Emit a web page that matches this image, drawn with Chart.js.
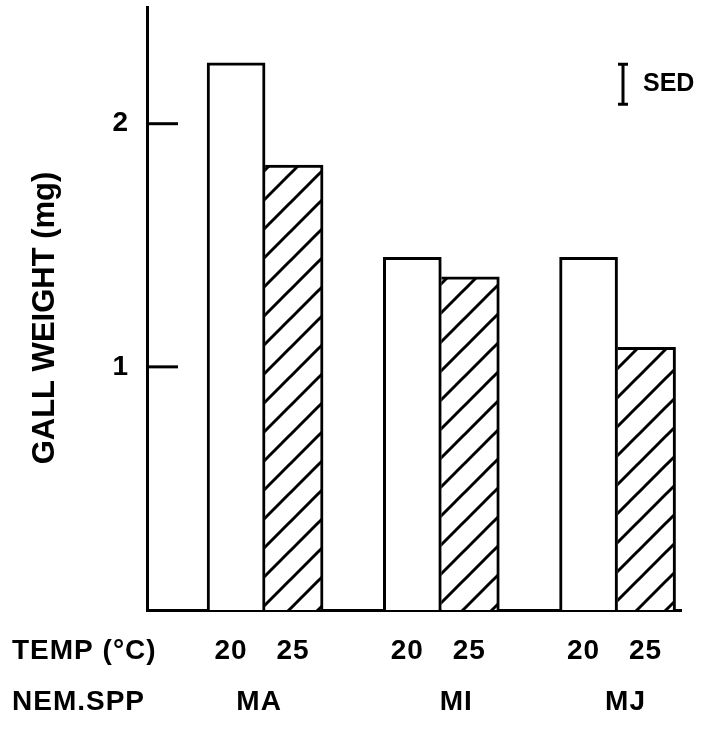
<!DOCTYPE html>
<html>
<head>
<meta charset="utf-8">
<script src="https://cdn.jsdelivr.net/npm/chart.js@4"></script>
<style>
  body { margin: 0; background: #fff; }
</style>
</head>
<body>
<canvas id="chart" width="707" height="729"></canvas>
<script>
// data
var species = ['MA', 'MI', 'MJ'];
var temps = ['20', '25'];
var weight20 = [2.25, 1.45, 1.45];
var weight25 = [1.83, 1.37, 1.08];
var yTicks = [1, 2];
var sed = 0.165;

var FONT = '"Liberation Sans", Arial, sans-serif';

// diagonal hatch for the 25 C bars
function makeHatch() {
  var s = 29;
  var c = document.createElement('canvas');
  c.width = s; c.height = s;
  var g = c.getContext('2d');
  g.fillStyle = '#fff';
  g.fillRect(0, 0, s, s);
  g.strokeStyle = '#000';
  g.lineWidth = 3;
  for (var k = -1; k <= 1; k++) {
    g.beginPath();
    g.moveTo(-2 + k * s, s + 2);
    g.lineTo(s + 2 + k * s, -2);
    g.stroke();
  }
  return g.createPattern(c, 'repeat');
}

function pts(vals) {
  return vals.map(function (v, i) { return { x: i + 1, y: v }; });
}

var extras = {
  id: 'extras',
  afterDraw: function (chart) {
    var ctx = chart.ctx;
    var xs = chart.scales.x, ys = chart.scales.y;
    var area = chart.chartArea;
    ctx.save();
    ctx.strokeStyle = '#000';
    ctx.fillStyle = '#000';
    ctx.lineWidth = 3;

    // inward y ticks
    yTicks.forEach(function (v) {
      var y = ys.getPixelForValue(v);
      ctx.beginPath();
      ctx.moveTo(area.left, y);
      ctx.lineTo(area.left + 31, y);
      ctx.stroke();
    });

    // SED bar
    var sx = area.right - 58;
    var top = ys.getPixelForValue(2.245);
    var bot = ys.getPixelForValue(2.245 - sed);
    ctx.beginPath();
    ctx.moveTo(sx, top); ctx.lineTo(sx, bot);
    ctx.moveTo(sx - 5, top); ctx.lineTo(sx + 5, top);
    ctx.moveTo(sx - 5, bot); ctx.lineTo(sx + 5, bot);
    ctx.stroke();
    ctx.font = 'bold 25px ' + FONT;
    ctx.textAlign = 'left';
    ctx.textBaseline = 'middle';
    ctx.fillText('SED', sx + 20, (top + bot) / 2);

    // y title
    ctx.save();
    ctx.translate(45, 318);
    ctx.rotate(-Math.PI / 2);
    ctx.textAlign = 'center';
    ctx.font = 'bold 31px ' + FONT;
    ctx.fillText('GALL WEIGHT (mg)', 0, 0);
    ctx.restore();

    // bottom label rows
    ctx.font = 'bold 28px ' + FONT;
    ctx.letterSpacing = '1px';
    ctx.textAlign = 'left';
    ctx.fillText('TEMP (°C)', 12, 651);
    ctx.fillText('NEM.SPP', 12, 702);
    ctx.textAlign = 'center';
    var nudge = [-6, 15, 8];
    species.forEach(function (s, i) {
      var cx = xs.getPixelForValue(i + 1);
      ctx.fillText(temps[0], cx - 34, 651);
      ctx.fillText(temps[1], cx + 28, 651);
      ctx.fillText(s, cx + nudge[i], 702);
    });
    ctx.restore();
  }
};

var config = {
  type: 'bar',
  data: {
    datasets: [
      {
        label: temps[0],
        data: pts(weight20),
        backgroundColor: '#fff',
        borderColor: '#000',
        borderWidth: { top: 3, left: 3, right: 3, bottom: 0 },
        barThickness: 58
      },
      {
        label: temps[1],
        data: pts(weight25),
        backgroundColor: makeHatch(),
        borderColor: '#000',
        borderWidth: { top: 3, left: 0, right: 3, bottom: 0 },
        barThickness: 58
      }
    ]
  },
  options: {
    responsive: false,
    devicePixelRatio: 1,
    animation: false,
    layout: { padding: { top: 7, right: 26, bottom: 119, left: 0 } },
    plugins: { legend: { display: false }, tooltip: { enabled: false } },
    scales: {
      x: {
        type: 'linear',
        offset: false,
        min: 0.33,
        max: 3.36,
        grid: { display: false, drawTicks: false },
        border: { display: true, color: '#000', width: 3 },
        ticks: { display: false },
        afterFit: function (s) {
          s.height = 0;
          s.paddingLeft = 0; s.paddingRight = 0;
        }
      },
      y: {
        min: 0,
        max: 2.48,
        grid: { display: false, drawTicks: false },
        border: { display: true, color: '#000', width: 3 },
        afterBuildTicks: function (s) {
          s.ticks = yTicks.map(function (v) { return { value: v }; });
        },
        ticks: {
          color: '#000',
          padding: 19,
          font: { family: FONT, size: 28, weight: 'bold' }
        },
        afterFit: function (s) {
          s.width = 147;
          s.paddingTop = 0; s.paddingBottom = 0;
        }
      }
    }
  },
  plugins: [extras]
};

new Chart(document.getElementById('chart'), config);
</script>
</body>
</html>
